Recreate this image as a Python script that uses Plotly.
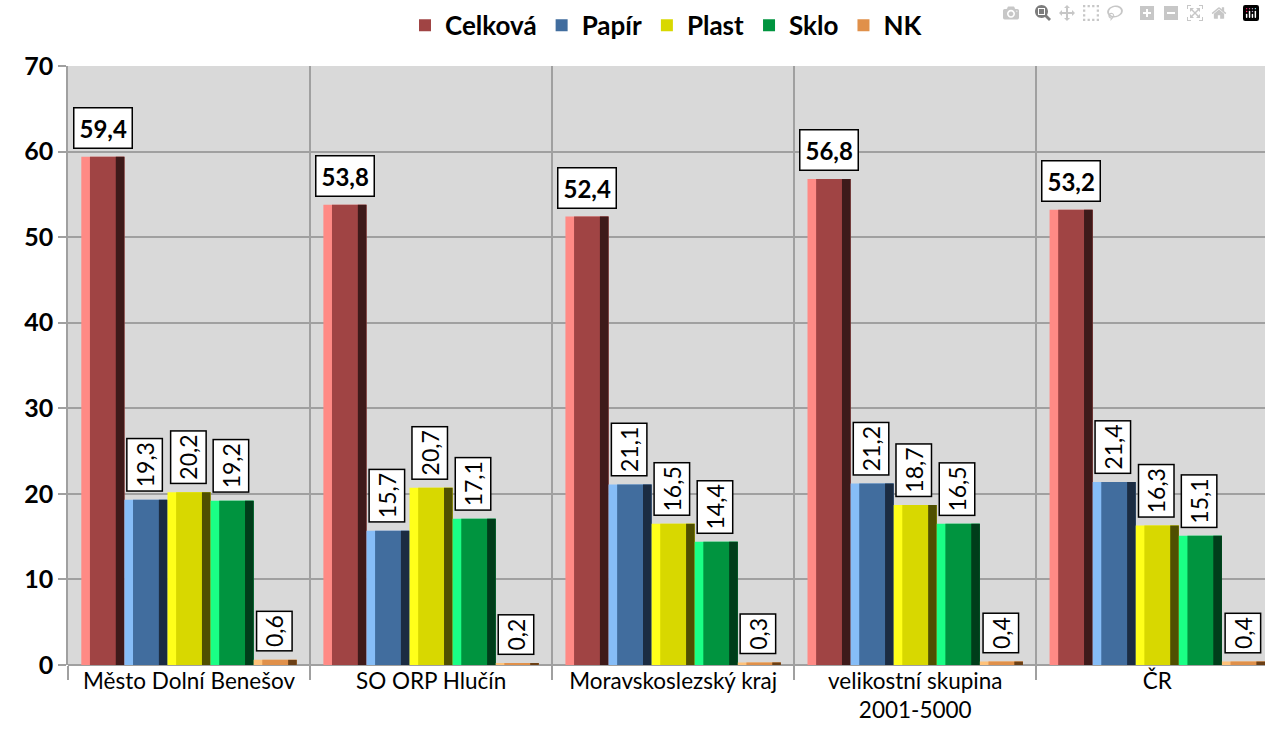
import plotly.graph_objects as go

categories = ["Město Dolní Benešov", "SO ORP Hlučín", "Moravskoslezský kraj",
              "velikostní skupina<br>2001-5000", "ČR"]
series_names = ["Celková", "Papír", "Plast", "Sklo", "NK"]
celkova = [59.4, 53.8, 52.4, 56.8, 53.2]
papir = [19.3, 15.7, 21.1, 21.2, 21.4]
plast = [20.2, 20.7, 16.5, 18.7, 16.3]
sklo = [19.2, 17.1, 14.4, 16.5, 15.1]
nk = [0.6, 0.2, 0.3, 0.4, 0.4]
values = [celkova, papir, plast, sklo, nk]
y_ticks = [0, 10, 20, 30, 40, 50, 60, 70]

# light (left bevel), face, dark (right bevel)
colors = [
    ("#ff8a85", "#a04444", "#3e1a1a"),
    ("#86bdf7", "#416d9e", "#1b2c42"),
    ("#ffff1a", "#d8d800", "#4f4f00"),
    ("#1aff85", "#00943f", "#003d1a"),
    ("#ffc27a", "#e0904a", "#6b3f15"),
]

FONT = "Lato"
xs = list(range(len(categories)))
n = len(series_names)
group = 0.89
w = group / n
strip = w * 0.2

fig = go.Figure()
for i, (name, vals) in enumerate(zip(series_names, values)):
    off = -group / 2 + i * w
    light, face, dark = colors[i]
    fig.add_trace(go.Bar(x=xs, y=vals, offset=off, width=w, marker=dict(color=light, line=dict(width=0)),
                         showlegend=False, hoverinfo="skip", legendgroup=name))
    fig.add_trace(go.Bar(x=xs, y=vals, offset=off + strip, width=w - strip, name=name,
                         marker=dict(color=face, line=dict(width=0)), legendgroup=name))
    fig.add_trace(go.Bar(x=xs, y=vals, offset=off + w - strip, width=strip,
                         marker=dict(color=dark, line=dict(width=0)),
                         showlegend=False, hoverinfo="skip", legendgroup=name))
    for x, v in zip(xs, vals):
        label = f"{v:.1f}".replace(".", ",")
        cx = x + off + w / 2
        if i == 0:
            fig.add_annotation(x=cx, y=v, text=f"<b>{label}</b>", showarrow=False,
                               xanchor="center", yanchor="bottom", yshift=8,
                               font=dict(family=FONT, size=24, color="black"),
                               bgcolor="white", bordercolor="black", borderwidth=1.5, borderpad=5)
        else:
            fig.add_annotation(x=cx, y=v, text=label, showarrow=False, textangle=-90,
                               xanchor="center", yanchor="bottom", yshift=8, xshift=-1,
                               font=dict(family=FONT, size=23, color="black"),
                               bgcolor="white", bordercolor="black", borderwidth=1.5, borderpad=3)

fig.update_layout(
    width=1265, height=739,
    margin=dict(l=68, r=0, t=66, b=74, autoexpand=False),
    barmode="overlay",
    paper_bgcolor="white",
    plot_bgcolor="#d9d9d9",
    font=dict(family=FONT, color="black"),
    legend=dict(orientation="h", x=0.5, xanchor="center", y=1.068, yanchor="middle",
                font=dict(family=FONT, size=26, color="black", weight="bold"),
                itemwidth=30, traceorder="normal"),
    xaxis=dict(range=[-0.5, 4.445], tickvals=xs, ticktext=categories, showgrid=False,
               ticks="", tickfont=dict(family=FONT, size=22.5, color="black"),
               zeroline=False, showline=False, automargin=False,
               minor=dict(tick0=-0.5, dtick=1, showgrid=True, gridcolor="#a0a0a0", gridwidth=1.5,
                          ticks="outside", ticklen=14, tickcolor="#a0a0a0", tickwidth=1.5)),
    yaxis=dict(range=[0, 70], tickvals=y_ticks, showgrid=True, gridcolor="#a0a0a0", gridwidth=1.5,
               ticks="outside", ticklen=8, tickcolor="#a0a0a0", tickwidth=1.5,
               tickfont=dict(family=FONT, size=25, color="black", weight="bold"),
               zeroline=True, zerolinecolor="#a0a0a0", zerolinewidth=1.5, automargin=False,
               showline=True, linecolor="#a0a0a0", linewidth=1.5),
)

# remove the browser's default 8px page margin so the figure fills the window exactly
fig.write_html("out.html",
               post_script="document.body.style.margin='0';document.documentElement.style.overflow='hidden';")
